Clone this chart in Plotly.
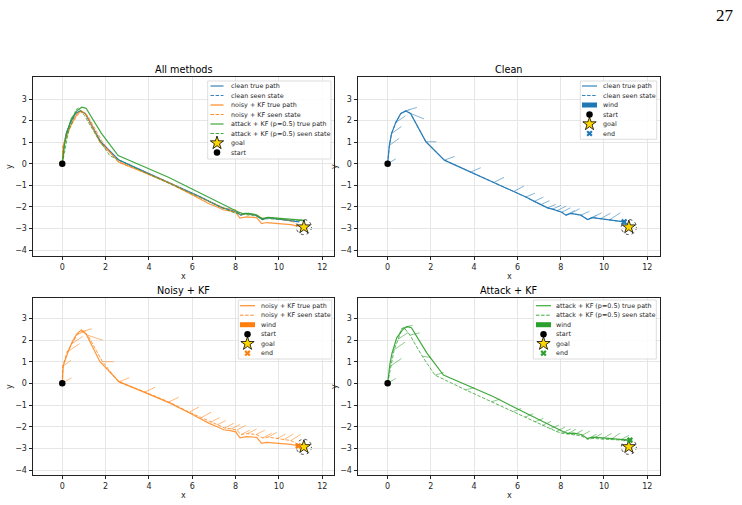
import plotly.graph_objects as go

W, H = 742, 505

# ---------------- data ----------------
start_pos = [0.0, 0.0]
goal_pos = [11.15, -2.93]
goal_radius = 0.35

clean_true_x = [0.00, 0.08, 0.18, 0.38, 0.61, 0.83, 1.06, 1.77, 2.62, 3.85, 4.93, 5.85, 6.39, 6.78, 7.08, 7.39, 7.62, 7.85, 8.05, 8.24, 8.47, 8.93, 9.24, 9.47, 9.85, 10.25, 10.93]
clean_true_y = [0.00, 0.85, 1.40, 1.92, 2.33, 2.45, 2.33, 1.02, 0.17, -0.38, -0.85, -1.27, -1.54, -1.74, -1.89, -2.04, -2.10, -2.16, -2.24, -2.38, -2.30, -2.38, -2.58, -2.49, -2.54, -2.60, -2.69]
clean_seen_x = [0.00, 0.08, 0.18, 0.38, 0.61, 0.83, 1.06, 1.77, 2.62, 3.85, 4.93, 5.85, 6.39, 6.78, 7.08, 7.39, 7.62, 7.85, 8.05, 8.24, 8.47, 8.93, 9.24, 9.47, 9.85, 10.25, 10.93]
clean_seen_y = [0.00, 0.85, 1.40, 1.92, 2.33, 2.45, 2.33, 1.02, 0.17, -0.38, -0.85, -1.27, -1.54, -1.74, -1.89, -2.04, -2.10, -2.16, -2.24, -2.38, -2.30, -2.38, -2.58, -2.49, -2.54, -2.60, -2.69]
clean_wind_u = [0.38, 0.45, 0.46, 0.45, 0.45, 0.52, 0.62, 0.48, 0.48, 0.45, 0.45, 0.45, 0.42, 0.42, 0.40, 0.38, 0.40, 0.40, 0.40, 0.42, 0.40, 0.40, 0.42, 0.42, 0.45, 0.50]
clean_wind_v = [0.23, 0.33, 0.33, 0.30, 0.20, 0.16, -0.25, 0.00, 0.17, 0.20, 0.22, 0.24, 0.18, 0.20, 0.18, 0.16, 0.18, 0.20, 0.20, 0.22, 0.22, 0.18, 0.20, 0.22, 0.25, 0.33]

noisy_true_x = [0.00, 0.05, 0.25, 0.45, 0.68, 0.88, 1.10, 1.74, 2.62, 3.85, 4.95, 5.90, 6.40, 6.80, 7.10, 7.45, 7.75, 8.00, 8.20, 8.50, 8.97, 9.20, 9.43, 9.85, 10.20, 10.55, 10.89]
noisy_true_y = [0.00, 0.82, 1.40, 1.90, 2.30, 2.46, 2.28, 1.00, 0.08, -0.42, -0.90, -1.38, -1.65, -1.86, -1.98, -2.14, -2.18, -2.24, -2.51, -2.46, -2.49, -2.77, -2.72, -2.75, -2.77, -2.82, -2.89]
noisy_seen_x = [0.00, 0.02, 0.22, 0.48, 0.70, 0.92, 1.18, 1.86, 2.60, 3.82, 4.92, 5.86, 6.42, 6.84, 7.14, 7.50, 7.80, 8.05, 8.26, 8.55, 8.95, 9.25, 9.50, 9.90, 10.25, 10.55, 10.85]
noisy_seen_y = [0.00, 0.78, 1.45, 1.86, 2.26, 2.40, 2.22, 1.00, 0.06, -0.40, -0.86, -1.33, -1.58, -1.80, -1.92, -2.06, -2.10, -2.16, -2.36, -2.32, -2.36, -2.52, -2.48, -2.55, -2.58, -2.64, -2.80]
noisy_wind_u = [0.43, 0.38, 0.58, 0.46, 0.43, 0.45, 0.69, 0.50, 0.49, 0.46, 0.45, 0.45, 0.45, 0.42, 0.40, 0.42, 0.40, 0.42, 0.40, 0.42, 0.40, 0.42, 0.40, 0.40, 0.42, 0.45]
noisy_wind_v = [0.26, 0.28, 0.38, 0.30, 0.18, 0.12, -0.23, 0.00, 0.20, 0.22, 0.22, 0.24, 0.25, 0.22, 0.20, 0.22, 0.20, 0.22, 0.20, 0.22, 0.20, 0.22, 0.22, 0.20, 0.24, 0.28]

attack_true_x = [0.00, 0.10, 0.20, 0.42, 0.68, 0.90, 1.10, 1.80, 2.58, 3.80, 4.90, 5.85, 6.40, 6.85, 7.20, 7.55, 7.85, 8.10, 8.32, 8.60, 8.95, 9.24, 9.50, 9.90, 10.30, 10.75, 11.20]
attack_true_y = [0.00, 0.85, 1.38, 2.10, 2.46, 2.62, 2.57, 1.42, 0.38, -0.15, -0.62, -1.10, -1.38, -1.60, -1.78, -1.95, -2.10, -2.22, -2.31, -2.30, -2.36, -2.54, -2.48, -2.52, -2.56, -2.60, -2.62]
attack_seen_x = [0.00, 0.14, 0.30, 0.50, 0.62, 0.75, 1.03, 1.60, 2.19, 3.60, 4.80, 5.80, 6.35, 6.80, 7.15, 7.50, 7.80, 8.05, 8.30, 8.60, 8.95, 9.24, 9.50, 9.90, 10.30, 10.75, 11.20]
attack_seen_y = [0.00, 0.80, 1.55, 2.05, 2.50, 2.58, 2.23, 1.25, 0.38, -0.30, -0.85, -1.30, -1.56, -1.78, -1.94, -2.10, -2.22, -2.30, -2.34, -2.38, -2.42, -2.58, -2.54, -2.57, -2.60, -2.62, -2.64]
attack_wind_u = [0.38, 0.50, 0.50, 0.45, 0.40, 0.40, 0.45, 0.40, 0.40, 0.40, 0.40, 0.38, 0.38, 0.40, 0.40, 0.42, 0.40, 0.42, 0.40, 0.42, 0.40, 0.42, 0.40, 0.45, 0.45, 0.40]
attack_wind_v = [0.23, 0.35, 0.35, 0.30, 0.15, 0.10, 0.10, -0.05, 0.12, 0.10, 0.12, 0.14, 0.16, 0.16, 0.18, 0.18, 0.20, 0.20, 0.22, 0.22, 0.22, 0.24, 0.22, 0.26, 0.30, 0.22]

x_ticks = [0, 2, 4, 6, 8, 10, 12]
y_ticks = [-4, -3, -2, -1, 0, 1, 2, 3]
panel_titles = ["All methods", "Clean", "Noisy + KF", "Attack + KF"]
page_number = "27"

# ---------------- style ----------------
C_CLEAN, C_NOISY, C_ATTACK = "#1f77b4", "#ff7f0e", "#2ca02c"
FONT = "DejaVu Sans"
TXT = "#262626"
DASH = "3.5px,1.6px"
STAR_SIZE = 10
START_SIZE = 6.5
END_SIZE = 5.5

series = {
    "clean": dict(color=C_CLEAN, tx=clean_true_x, ty=clean_true_y, sx=clean_seen_x, sy=clean_seen_y,
                  wu=clean_wind_u, wv=clean_wind_v, name="clean", op=0.9),
    "noisy": dict(color=C_NOISY, tx=noisy_true_x, ty=noisy_true_y, sx=noisy_seen_x, sy=noisy_seen_y,
                  wu=noisy_wind_u, wv=noisy_wind_v, name="noisy + KF", op=0.8),
    "attack": dict(color=C_ATTACK, tx=attack_true_x, ty=attack_true_y, sx=attack_seen_x, sy=attack_seen_y,
                   wu=attack_wind_u, wv=attack_wind_v, name="attack + KF (p=0.5)", op=0.9),
}

# panel boxes in pixels (left, top, right, bottom) and data ranges
panels = [
    dict(box=(33, 77, 334, 256), xr=[-1.35, 12.54], yr=[-4.27, 4.02]),
    dict(box=(358, 77, 660, 256), xr=[-1.37, 12.59], yr=[-4.27, 4.02]),
    dict(box=(33, 298, 334, 475), xr=[-1.35, 12.54], yr=[-4.23, 3.94]),
    dict(box=(358, 298, 660, 475), xr=[-1.37, 12.59], yr=[-4.23, 3.94]),
]

fig = go.Figure()
layout = dict(width=W, height=H, margin=dict(l=0, r=0, t=0, b=0), paper_bgcolor="white",
              plot_bgcolor="rgba(0,0,0,0)", showlegend=False)
annotations = []
shapes = []

for i, p in enumerate(panels):
    l, t, r, b = p["box"]
    n = "" if i == 0 else str(i + 1)
    common = dict(showline=True, mirror=True, linecolor="#222", linewidth=0.9, ticks="outside",
                  ticklen=3.5, tickwidth=0.8, tickcolor="#222", showgrid=True, gridcolor="#e6e6e6",
                  gridwidth=0.7, zeroline=False, tickfont=dict(family=FONT, size=8, color=TXT))
    layout["xaxis" + n] = dict(domain=[l / W, r / W], range=p["xr"], tickvals=x_ticks,
                               anchor="y" + n, **common)
    layout["yaxis" + n] = dict(domain=[1 - b / H, 1 - t / H], range=p["yr"], tickvals=y_ticks,
                               anchor="x" + n, **common)
    cx = (l + r) / 2
    annotations.append(dict(x=cx / W, y=1 - (t - 8) / H, xref="paper", yref="paper", text=panel_titles[i],
                            showarrow=False, font=dict(family=FONT, size=9.7, color="black"),
                            xanchor="center", yanchor="middle"))
    annotations.append(dict(x=cx / W, y=1 - (b + 20.5) / H, xref="paper", yref="paper", text="x",
                            showarrow=False, font=dict(family=FONT, size=8, color=TXT),
                            xanchor="center", yanchor="middle"))
    annotations.append(dict(x=(l - 23.5) / W, y=1 - ((t + b) / 2) / H, xref="paper", yref="paper", text="y",
                            showarrow=False, textangle=-90, font=dict(family=FONT, size=8, color=TXT),
                            xanchor="center", yanchor="middle"))
    # goal tolerance circle
    shapes.append(dict(type="circle", xref="x" + n, yref="y" + n,
                       x0=goal_pos[0] - goal_radius, x1=goal_pos[0] + goal_radius,
                       y0=goal_pos[1] - goal_radius, y1=goal_pos[1] + goal_radius,
                       line=dict(color="rgba(0,0,0,0.75)", width=0.9, dash="dot"), layer="below"))


def ax(i):
    n = "" if i == 0 else str(i + 1)
    return dict(xaxis="x" + n, yaxis="y" + n)


def add_path(i, s, kind):
    if kind == "true":
        fig.add_trace(go.Scatter(x=s["tx"], y=s["ty"], mode="lines", opacity=s["op"],
                                 line=dict(color=s["color"], width=1.2), hoverinfo="skip", **ax(i)))
    else:
        fig.add_trace(go.Scatter(x=s["sx"], y=s["sy"], mode="lines", opacity=0.85,
                                 line=dict(color=s["color"], width=0.9, dash=DASH), hoverinfo="skip", **ax(i)))


def add_wind(i, s):
    xs, ys = [], []
    m = min(len(s["sx"]), len(s["wu"]))
    for k in range(m):
        x0, y0 = s["sx"][k], s["sy"][k]
        xs += [x0, x0 + s["wu"][k], None]
        ys += [y0, y0 + s["wv"][k], None]
    fig.add_trace(go.Scatter(x=xs, y=ys, mode="lines", opacity=0.6,
                             line=dict(color=s["color"], width=0.9), hoverinfo="skip", **ax(i)))


def star_marker():
    return dict(symbol="star", size=STAR_SIZE, color="#FFD700", line=dict(color="black", width=0.8))


def add_goal(i):
    fig.add_trace(go.Scatter(x=[goal_pos[0]], y=[goal_pos[1]], mode="markers", hoverinfo="skip",
                             marker=star_marker(), **ax(i)))


def add_start(i):
    fig.add_trace(go.Scatter(x=[start_pos[0]], y=[start_pos[1]], mode="markers", hoverinfo="skip",
                             marker=dict(symbol="circle", size=START_SIZE, color="black"), **ax(i)))


def add_end(i, s):
    fig.add_trace(go.Scatter(x=[s["tx"][-1]], y=[s["ty"][-1]], mode="markers", hoverinfo="skip",
                             marker=dict(symbol="x", size=END_SIZE, color=s["color"], line=dict(width=0)), **ax(i)))


# panel 1: all methods
for key in ["clean", "noisy", "attack"]:
    add_path(0, series[key], "true")
    add_path(0, series[key], "seen")
add_goal(0)
add_start(0)

# panels 2-4
for i, key in [(1, "clean"), (2, "noisy"), (3, "attack")]:
    s = series[key]
    add_wind(i, s)
    add_path(i, s, "true")
    add_path(i, s, "seen")
    add_start(i)
    add_goal(i)
    add_end(i, s)

# ---------------- legends (drawn on a full-page pixel overlay) ----------------
layout["xaxis5"] = dict(domain=[0, 1], range=[0, W], visible=False, anchor="y5", fixedrange=True)
layout["yaxis5"] = dict(domain=[0, 1], range=[H, 0], visible=False, anchor="x5", fixedrange=True)
OV = dict(xaxis="x5", yaxis="y5")


def legend(box, row0, pitch, hx0, hx1, tx, rows):
    x0, y0, x1, y1 = box
    fig.add_trace(go.Scatter(x=[x0, x1, x1, x0, x0], y=[y0, y0, y1, y1, y0], mode="lines", fill="toself",
                             fillcolor="rgba(255,255,255,0.85)", line=dict(color="#d4d4d4", width=0.8),
                             hoverinfo="skip", **OV))
    for k, (kind, color, label) in enumerate(rows):
        yy = row0 + k * pitch
        hc = (hx0 + hx1) / 2
        if kind == "line":
            fig.add_trace(go.Scatter(x=[hx0, hx1], y=[yy, yy], mode="lines", opacity=0.9,
                                     line=dict(color=color, width=1.2), hoverinfo="skip", **OV))
        elif kind == "dash":
            fig.add_trace(go.Scatter(x=[hx0, hx1], y=[yy, yy], mode="lines",
                                     line=dict(color=color, width=0.9, dash=DASH), hoverinfo="skip", **OV))
        elif kind == "patch":
            fig.add_trace(go.Scatter(x=[hx0, hx1, hx1, hx0, hx0], y=[yy - 2.5, yy - 2.5, yy + 2.5, yy + 2.5, yy - 2.5],
                                     mode="lines", fill="toself", fillcolor=color, line=dict(color=color, width=0),
                                     hoverinfo="skip", **OV))
        elif kind == "goal":
            fig.add_trace(go.Scatter(x=[hc], y=[yy], mode="markers", hoverinfo="skip",
                                     marker=star_marker(), **OV))
        elif kind == "start":
            fig.add_trace(go.Scatter(x=[hc], y=[yy], mode="markers", hoverinfo="skip",
                                     marker=dict(symbol="circle", size=START_SIZE, color="black"), **OV))
        elif kind == "end":
            fig.add_trace(go.Scatter(x=[hc], y=[yy], mode="markers", hoverinfo="skip",
                                     marker=dict(symbol="x", size=END_SIZE, color=color, line=dict(width=0)), **OV))
        annotations.append(dict(x=tx, y=yy, xref="x5", yref="y5", text=label, showarrow=False,
                                xanchor="left", yanchor="middle", font=dict(family=FONT, size=6.4, color=TXT)))


rows_all = []
for key in ["clean", "noisy", "attack"]:
    s = series[key]
    rows_all.append(("line", s["color"], s["name"] + " true path"))
    rows_all.append(("dash", s["color"], s["name"] + " seen state"))
rows_all += [("goal", None, "goal"), ("start", None, "start")]
legend((207.7, 81, 331, 159), 86, 9.5, 210.5, 223.5, 229, rows_all)


def single_rows(s):
    return [("line", s["color"], s["name"] + " true path"), ("dash", s["color"], s["name"] + " seen state"),
            ("patch", s["color"], "wind"), ("start", None, "start"), ("goal", None, "goal"),
            ("end", s["color"], "end")]


legend((580.3, 81, 656.7, 139.3), 86, 9.5, 582, 597, 601, single_rows(series["clean"]))
legend((238.3, 300, 331.7, 359), 305.7, 9.5, 240, 255, 259.3, single_rows(series["noisy"]))
legend((533.3, 300, 656.3, 359), 305.7, 9.5, 536, 551, 554, single_rows(series["attack"]))

annotations.append(dict(x=725 / W, y=1 - 15 / H, xref="paper", yref="paper", text=page_number, showarrow=False,
                        xanchor="center", yanchor="middle",
                        font=dict(family="Liberation Serif", size=17, color="black")))

layout["annotations"] = annotations
layout["shapes"] = shapes
fig.update_layout(**layout)
fig.write_html("out.html")
